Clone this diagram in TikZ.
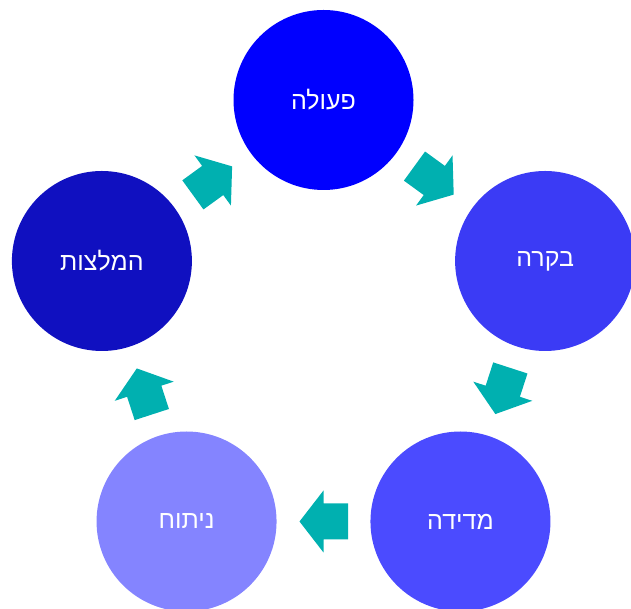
\documentclass[tikz,border=0pt]{standalone}
\usepackage{fontspec}
\newfontfamily\hebfont[Script=Hebrew]{Liberation Sans}
\TeXXeTstate=1
\usetikzlibrary{calc}
\definecolor{cA}{HTML}{0000FF}
\definecolor{cB}{HTML}{3B3BF5}
\definecolor{cC}{HTML}{4B4BFF}
\definecolor{cD}{HTML}{8484FF}
\definecolor{cE}{HTML}{1010C0}
\definecolor{arrowcol}{HTML}{00B0B0}
\tikzset{
  stage/.style={circle, minimum size=180pt, inner sep=0pt, text=white, font=\hebfont\fontsize{25}{30}\selectfont},
  blockarrow/.style={fill=arrowcol, draw=none}
}
\newcommand{\heb}[1]{\raisebox{-2pt}{\beginR #1\endR}}
\newcommand{\blockarr}[3]{% from, to, angle
  \begin{scope}[shift={($(#1)!0.5!(#2)$)}, rotate=#3]
    \fill[blockarrow] (-24.5,-18) -- (0,-18) -- (0,-31) -- (24,0) -- (0,31) -- (0,18) -- (-24.5,18) -- cycle;
  \end{scope}}
\begin{document}
\begin{tikzpicture}[x=1pt,y=1pt]
\useasboundingbox (0,0) rectangle (631,609);
\coordinate (c) at (323.5,276);
\node[stage, fill=cA] (a) at ($(c)+(90:233)$) {\heb{פעולה}};
\node[stage, fill=cB] (b) at ($(c)+(18:233)$) {\heb{בקרה}};
\node[stage, fill=cC] (m) at ($(c)+(-54:233)$) {\heb{מדידה}};
\node[stage, fill=cD] (n) at ($(c)+(-126:233)$) {\heb{ניתוח}};
\node[stage, fill=cE] (h) at ($(c)+(162:233)$) {\heb{המלצות}};
\blockarr{a}{b}{-36}
\blockarr{b}{m}{-108}
\blockarr{m}{n}{180}
\blockarr{n}{h}{108}
\blockarr{h}{a}{36}
\end{tikzpicture}
\end{document}
